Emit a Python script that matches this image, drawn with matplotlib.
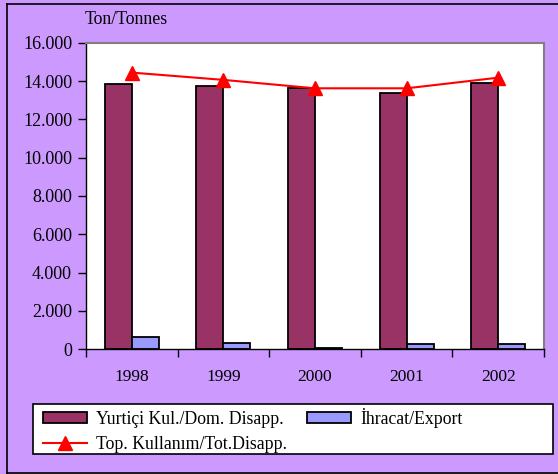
import matplotlib
matplotlib.use("Agg")
import matplotlib.pyplot as plt
from matplotlib.patches import Rectangle
from matplotlib.lines import Line2D
import numpy as np

years = ["1998", "1999", "2000", "2001", "2002"]
domestic = [13830, 13740, 13650, 13360, 13915]
export = [620, 350, 85, 260, 260]
total = [14440, 14060, 13620, 13620, 14175]
yticks = [0, 2000, 4000, 6000, 8000, 10000, 12000, 14000, 16000]
ytick_labels = ["0", "2.000", "4.000", "6.000", "8.000", "10.000", "12.000", "14.000", "16.000"]

plt.rcParams['font.family'] = ['Liberation Serif', 'DejaVu Serif']
FS = 12.8
W, H = 558, 474
fig = plt.figure(figsize=(W / 100, H / 100), dpi=100, facecolor="#CC99FF")

# outer frame (left, top, bottom lines)
fig.add_artist(Line2D([7 / W, 7 / W], [1 - 473 / H, 1 - 3.5 / H], color="black", lw=1.2, transform=fig.transFigure))
fig.add_artist(Line2D([7 / W, 1], [1 - 3.5 / H, 1 - 3.5 / H], color="black", lw=1.2, transform=fig.transFigure))
fig.add_artist(Line2D([7 / W, 1], [1 - 473 / H, 1 - 473 / H], color="black", lw=1.2, transform=fig.transFigure))

ax = fig.add_axes([86 / W, 1 - 349.3 / H, 458 / W, 306.6 / H])
ax.set_facecolor("white")
x = np.arange(len(years))
bw = 0.295
b1 = ax.bar(x - bw / 2, domestic, bw, color="#993366", edgecolor="black", linewidth=1.3, zorder=2)
b2 = ax.bar(x + bw / 2, export, bw, color="#9999FF", edgecolor="black", linewidth=1.3, zorder=2)
l1, = ax.plot(x, total, color="red", lw=1.5, marker="^", markersize=10, zorder=3)

ax.set_xlim(-0.5, len(years) - 0.5)
ax.set_ylim(0, 16000)
ax.set_yticks(yticks)
ax.set_yticklabels(ytick_labels, fontsize=13)
ax.set_xticks(x)
ax.set_xticklabels(years, fontsize=12.5)
ax.set_xticks(np.arange(-0.5, len(years)), minor=True)
ax.tick_params(axis="x", which="major", length=0, pad=14)
ax.tick_params(axis="x", which="minor", length=6, width=1, direction="out")
ax.tick_params(axis="y", length=6, width=1, direction="out", pad=4)
for s in ["top", "right"]:
    ax.spines[s].set_color("#808080")
    ax.spines[s].set_linewidth(1.5)
for s in ["left", "bottom"]:
    ax.spines[s].set_color("black")
    ax.spines[s].set_linewidth(1)

fig.text(85 / W, 1 - 20 / H, "Ton/Tonnes", fontsize=FS, va="center", ha="left")

# legend frame
fig.add_artist(Rectangle((33 / W, 1 - 454 / H), 520 / W, 50 / H, transform=fig.transFigure,
                         facecolor="white", edgecolor="black", linewidth=1.2, zorder=1))
leg = fig.legend([b1, l1, b2],
                 ["Yurtiçi Kul./Dom. Disapp.", "Top. Kullanım/Tot.Disapp.", "İhracat/Export"],
                 ncol=2, loc="upper left", bbox_to_anchor=(43 / W, 1 - 408 / H),
                 fontsize=FS, frameon=False,
                 handlelength=2.5, handleheight=0.55, handletextpad=0.5, labelspacing=0.45,
                 borderpad=0, columnspacing=1.1, borderaxespad=0)
leg.set_zorder(2)

fig.savefig("out.png", dpi=100, facecolor=fig.get_facecolor())
